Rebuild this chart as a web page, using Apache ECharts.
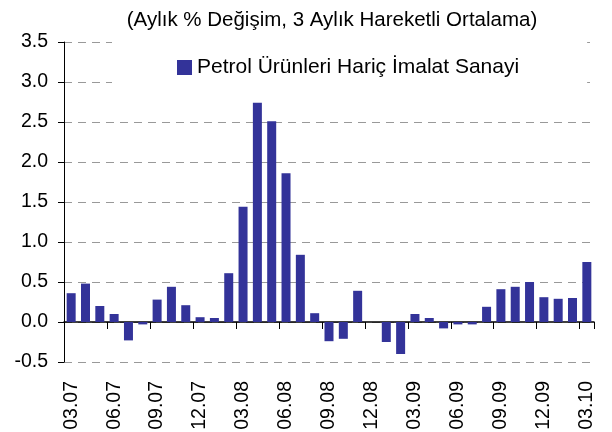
<!DOCTYPE html>
<html>
<head>
<meta charset="utf-8">
<script src="https://cdn.jsdelivr.net/npm/echarts@6/dist/echarts.min.js"></script>
<style>html,body{margin:0;padding:0;background:#fff;}#c{width:612px;height:432px;}</style>
</head>
<body>
<div id="c"></div>
<script>
const titleText = '(Aylık % Değişim, 3 Aylık Hareketli Ortalama)';
const seriesName = 'Petrol Ürünleri Hariç İmalat Sanayi';
const categories = [
  '03.07','04.07','05.07','06.07','07.07','08.07','09.07','10.07','11.07','12.07','01.08','02.08',
  '03.08','04.08','05.08','06.08','07.08','08.08','09.08','10.08','11.08','12.08','01.09','02.09',
  '03.09','04.09','05.09','06.09','07.09','08.09','09.09','10.09','11.09','12.09','01.10','02.10','03.10'
];
const values = [
  0.36, 0.48, 0.20, 0.10, -0.23, -0.03, 0.28, 0.44, 0.21, 0.06, 0.05, 0.61,
  1.44, 2.74, 2.51, 1.86, 0.84, 0.11, -0.24, -0.21, 0.39, 0.00, -0.25, -0.40,
  0.10, 0.05, -0.08, -0.03, -0.03, 0.19, 0.41, 0.44, 0.50, 0.31, 0.29, 0.30, 0.75
];
const yMin = -0.5, yMax = 3.5, yStep = 0.5;

const chart = echarts.init(document.getElementById('c'), null, {renderer: 'canvas'});
const font = 'Arial, "Liberation Sans", sans-serif';
chart.setOption({
  animation: false,
  backgroundColor: '#fff',
  title: {
    text: titleText,
    left: 327, textAlign: 'center', top: 5,
    textStyle: {fontFamily: font, fontSize: 20.5, fontWeight: 'normal', color: '#000'}
  },
  legend: {
    data: [seriesName],
    left: 112, top: 38,
    padding: [19, 68, 22, 65],
    backgroundColor: '#fff',
    itemWidth: 15, itemHeight: 15, itemGap: 5,
    icon: 'rect',
    z: 10,
    textStyle: {fontFamily: font, fontSize: 21, color: '#000', padding: [0, 0, 0, 0]}
  },
  grid: {left: 64, right: 18, top: 42, bottom: 70, containLabel: false, outerBoundsMode: 'none'},
  xAxis: {
    type: 'category',
    data: categories,
    boundaryGap: true,
    axisLine: {onZero: true, lineStyle: {color: '#000', width: 1.5}},
    axisTick: {show: true, interval: 2, length: 7, lineStyle: {color: '#000'}},
    axisLabel: {
      interval: 2, rotate: 90, margin: 19,
      fontFamily: font, fontSize: 19.5, color: '#000'
    },
    splitLine: {show: false}
  },
  yAxis: {
    type: 'value',
    min: yMin, max: yMax, interval: yStep,
    axisLine: {show: true, lineStyle: {color: '#000', width: 1}},
    axisTick: {show: true, length: 6, lineStyle: {color: '#000'}},
    axisLabel: {
      margin: 16, fontFamily: font, fontSize: 19.5, color: '#000',
      formatter: v => v.toFixed(1)
    },
    splitLine: {show: true, lineStyle: {color: '#999', type: [8, 6], width: 1}}
  },
  series: [{
    name: seriesName,
    type: 'bar',
    data: values,
    barWidth: 9,
    itemStyle: {color: '#333399'}
  }]
});
</script>
</body>
</html>
